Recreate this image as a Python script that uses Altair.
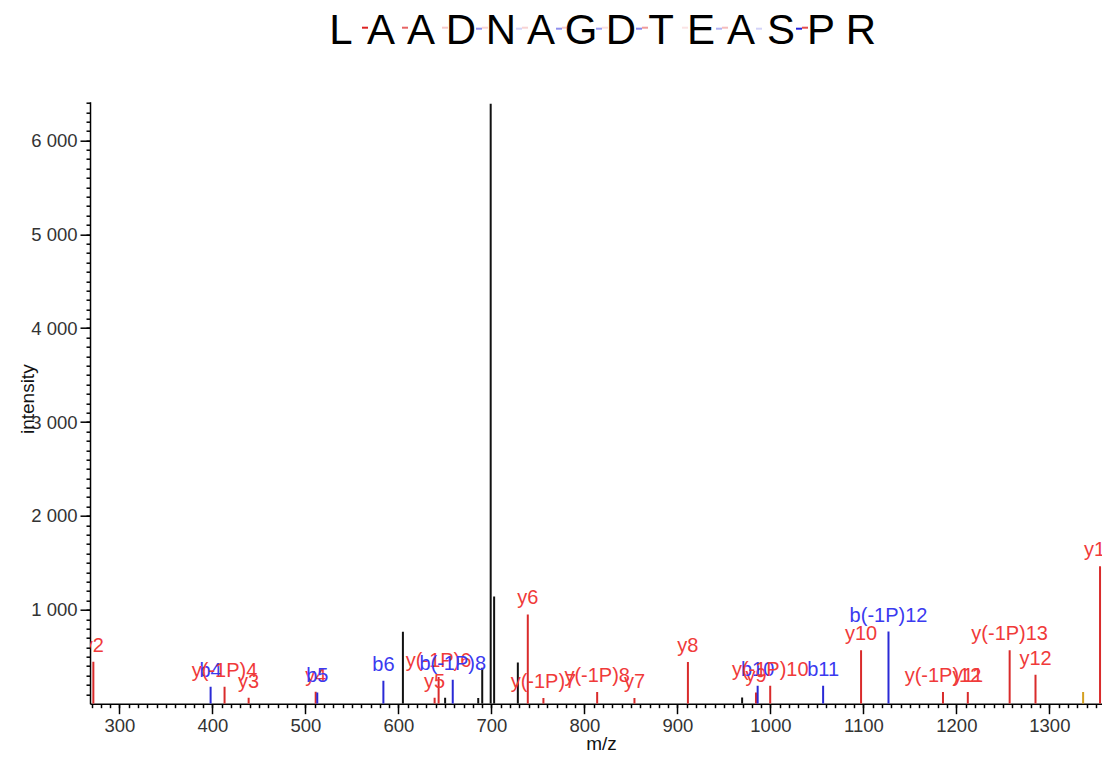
import altair as alt
import pandas as pd

# ---------------- data ----------------
peak_mz = [271.9, 398.0, 413.0, 438.9, 511.0, 512.7, 583.8, 604.8, 638.9, 643.2,
           650.2, 658.4, 685.8, 690.1, 699.2, 702.9, 728.4, 739.1, 755.9, 813.7,
           853.8, 911.3, 969.6, 984.5, 986.3, 999.8, 1056.7, 1097.5, 1127.0, 1185.6,
           1212.3, 1257.3, 1285.1, 1336.3, 1354.5]
peak_int = [448, 181, 181, 64, 128, 120, 245, 765, 64, 283,
            64, 255, 60, 384, 6390, 1143, 440, 951, 60, 124,
            60, 443, 67, 120, 192, 192, 192, 570, 768, 124,
            124, 568, 309, 124, 1463]
peak_kind = ["y", "b", "y", "y", "y", "b", "b", "other", "y", "y",
             "other", "b", "other", "other", "other", "other", "other", "y", "y", "y",
             "y", "y", "other", "y", "b", "y", "b", "y", "b", "y",
             "y", "y", "y", "prec", "y"]
peak_label = ["y2", "b4", "y(-1P)4", "y3", "y4", "b5", "b6", "", "y5", "y(-1P)6",
              "", "b(-1P)8", "", "", "", "", "", "y6", "y(-1P)7", "y(-1P)8",
              "y7", "y8", "", "y9", "b10", "y(-1P)10", "b11", "y10", "b(-1P)12", "y(-1P)12",
              "y11", "y(-1P)13", "y12", "", "y13"]

sequence = list("LAADNAGDTEASPR")
# relative strength of b (blue) / y (red) cleavage marks between residues
gap_b = [0, 0, 0, 0.5, 0.2, 0.5, 0.45, 0.55, 0, 0.35, 0.2, 1.0, 0]
gap_y = [1.0, 0.7, 0.25, 0.2, 0.2, 0.25, 0.15, 0.45, 0.12, 0.3, 0, 0.8, 0]

x_major = list(range(300, 1400, 100))
x_minor = list(range(270, 1360, 10))
y_major = list(range(1000, 7000, 1000))
y_minor = list(range(100, 6500, 100))

# ---------------- layout ----------------
W = 1012
H = 602
X_DOMAIN = [268.3, 1356.6]
Y_DOMAIN = [0, 6412]
FONT = "Liberation Sans"

df = pd.DataFrame({"mz": peak_mz, "intensity": peak_int,
                   "kind": peak_kind, "label": peak_label})
df_lab = df[df["label"] != ""]

seq_df = pd.DataFrame({"idx": list(range(len(sequence))), "res": sequence})
gap_idx = [i + 0.5 for i in range(len(gap_b))]
gb_df = pd.DataFrame({"idx": gap_idx, "op": gap_b})
gy_df = pd.DataFrame({"idx": gap_idx, "op": gap_y})

xscale = alt.Scale(domain=X_DOMAIN, nice=False, zero=False)
yscale = alt.Scale(domain=Y_DOMAIN, nice=False, zero=True)

common = dict(grid=False, domainColor="#000", domainWidth=1.5,
              tickColor="#000", tickWidth=1.5)

x_axis = alt.Axis(
    orient="bottom", values=x_major, format="d", tickSize=10,
    labelOverlap=False, labelFlush=False,
    title="m/z", titleFontSize=19, titleFontWeight="normal", titleColor="#111",
    titleX=511, titleY=40, titleAlign="center", titleBaseline="middle",
    labelFontSize=18.5, labelColor="#333", labelPadding=3, **common,
)
y_axis = alt.Axis(
    orient="left", values=y_major, tickSize=10,
    labelExpr="replace(format(datum.value, ','), ',', ' ')",
    labelOverlap=False, labelFlush=False,
    title="intensity", titleFontSize=19, titleFontWeight="normal", titleColor="#111",
    titleX=-63, titleY=297, titleAngle=270, titleAlign="center", titleBaseline="middle",
    labelFontSize=18.5, labelColor="#333", labelPadding=3, **common,
)
x_minor_axis = alt.Axis(values=x_minor, tickSize=4, labels=False, domain=False,
                        title=None, orient="bottom", grid=False,
                        tickColor="#000", tickWidth=1.5)
y_minor_axis = alt.Axis(values=y_minor, tickSize=4, labels=False, domain=False,
                        title=None, orient="left", grid=False,
                        tickColor="#000", tickWidth=1.5)

kinds = ["y", "b", "other", "prec"]
rules = alt.Chart(df).mark_rule(strokeWidth=2, clip=True).encode(
    x=alt.X("mz:Q", scale=xscale, axis=x_axis),
    y=alt.Y("intensity:Q", scale=yscale, axis=y_axis),
    y2=alt.datum(0),
    color=alt.Color("kind:N", scale=alt.Scale(domain=kinds,
                    range=["#d92b2b", "#2a2ad6", "#111111", "#d4a020"]), legend=None),
)
minor = alt.Chart(df).mark_point(opacity=0).encode(
    x=alt.X("mz:Q", scale=xscale, axis=x_minor_axis),
    y=alt.Y("intensity:Q", scale=yscale, axis=y_minor_axis),
)
labels = alt.Chart(df_lab).mark_text(dy=-10, baseline="alphabetic", fontSize=20,
                                     clip=True, font=FONT).encode(
    x=alt.X("mz:Q", scale=xscale, axis=None),
    y=alt.Y("intensity:Q", scale=yscale, axis=None),
    text="label:N",
    color=alt.Color("kind:N", scale=alt.Scale(domain=kinds,
                    range=["#f03a3a", "#3a3af0", "#111111", "#d4a020"]), legend=None),
)
main = alt.layer(minor, rules, labels).resolve_scale(color="independent").resolve_axis(
    x="independent", y="independent")

# residue letters centred over the plot, 40px apart
d0 = -(341 - 90) / 40
d1 = d0 + W / 40
iscale = alt.Scale(domain=[d0, d1], nice=False, zero=False)

letters = alt.Chart(seq_df).mark_text(fontSize=42, baseline="alphabetic", font=FONT,
                                      color="#000").encode(
    x=alt.X("idx:Q", scale=iscale, axis=None),
    y=alt.value(-57.7),
    text="res:N",
)
dash_b = alt.Chart(gb_df).mark_tick(orient="horizontal", size=6, thickness=2,
                                    color="#2222dd", xOffset=-2).encode(
    x=alt.X("idx:Q", scale=iscale, axis=None),
    y=alt.value(-73),
    opacity=alt.Opacity("op:Q", scale=None),
)
dash_y = alt.Chart(gy_df).mark_tick(orient="horizontal", size=6, thickness=2,
                                    color="#dd2222", xOffset=4).encode(
    x=alt.X("idx:Q", scale=iscale, axis=None),
    y=alt.value(-74),
    opacity=alt.Opacity("op:Q", scale=None),
)
title_layer = alt.layer(letters, dash_b, dash_y)

chart = alt.layer(main, title_layer).resolve_scale(x="independent").properties(
    width=W, height=H,
    autosize=alt.AutoSizeParams(type="none"),
    padding={"left": 82, "top": 93.7, "right": 0, "bottom": 50},
).configure(font=FONT).configure_view(stroke=None)

chart.save("out.html", embed_options={"renderer": "svg", "actions": False})
